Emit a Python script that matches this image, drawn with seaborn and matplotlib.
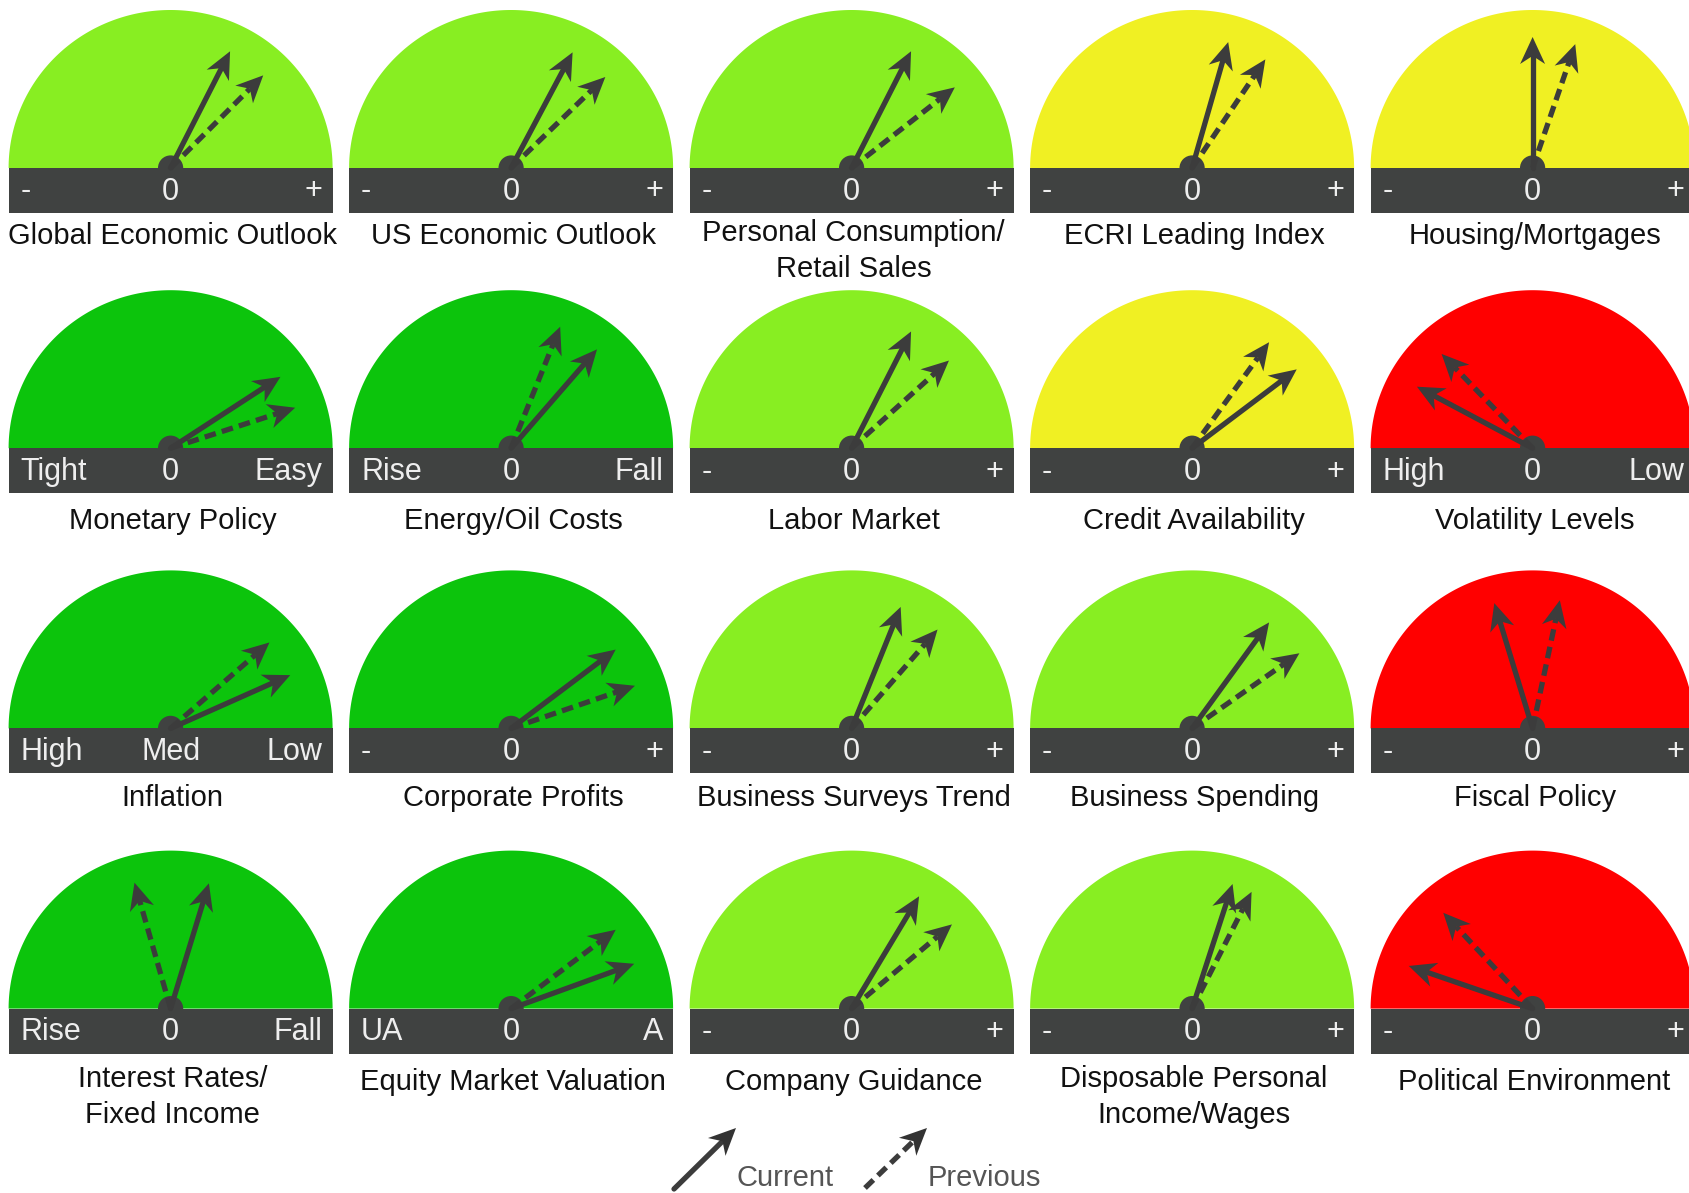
import numpy as np
import pandas as pd
import matplotlib
matplotlib.use("Agg")
import matplotlib.pyplot as plt
import seaborn as sns

# gauges, row by row (4 rows x 5 columns)
titles = [
    "Global Economic Outlook", "US Economic Outlook", "Personal Consumption/\nRetail Sales",
    "ECRI Leading Index", "Housing/Mortgages",
    "Monetary Policy", "Energy/Oil Costs", "Labor Market", "Credit Availability", "Volatility Levels",
    "Inflation", "Corporate Profits", "Business Surveys Trend", "Business Spending", "Fiscal Policy",
    "Interest Rates/\nFixed Income", "Equity Market Valuation", "Company Guidance",
    "Disposable Personal\nIncome/Wages", "Political Environment",
]
zone = [
    "lime", "lime", "lime", "yellow", "yellow",
    "green", "green", "lime", "yellow", "red",
    "green", "green", "lime", "lime", "red",
    "green", "green", "lime", "lime", "red",
]
left_labels = [
    "-", "-", "-", "-", "-",
    "Tight", "Rise", "-", "-", "High",
    "High", "-", "-", "-", "-",
    "Rise", "UA", "-", "-", "-",
]
mid_labels = [
    "0", "0", "0", "0", "0",
    "0", "0", "0", "0", "0",
    "Med", "0", "0", "0", "0",
    "0", "0", "0", "0", "0",
]
right_labels = [
    "+", "+", "+", "+", "+",
    "Easy", "Fall", "+", "+", "Low",
    "Low", "+", "+", "+", "+",
    "Fall", "A", "+", "+", "+",
]
# needle tilt in degrees from vertical (positive = towards the right label)
current_tilt = [
    27, 28, 27, 16, 0,
    57, 41, 27, 53, -62,
    66, 53, 22, 36, -17,
    17, 70, 31, 18, -71,
]
previous_tilt = [
    45, 46, 52, 34, 19,
    72, 22, 48, 36, -44,
    49, 71, 41, 55, 12,
    -16, 53, 50, 27, -43,
]

zone_colors = {"lime": "#88ee22", "green": "#0cc40c", "yellow": "#f0f023", "red": "#ff0000"}
bar_color = "#404241"
needle_color = "#3c3c3c"

W, H = 1690, 1193
col_left, col_step, gauge_w = 8.6, 340.5, 324
bar_top0, row_step, bar_h = 168, 280.2, 45
dome_h = 158
needle_len = 131
head_len, head_w = 27, 25
title_gap = [9, 14, 11, 14]   # px between band and title, per row

sns.set_theme(style="white")
plt.rcParams['font.family'] = ['Liberation Sans', 'DejaVu Sans']

fig = plt.figure(figsize=(W / 100, H / 100), dpi=100)
ax = fig.add_axes([0, 0, 1, 1])
ax.set_xlim(0, W)
ax.set_ylim(H, 0)
ax.axis("off")


def arrow_head(x0, y0, x1, y1, color):
    d = np.array([x1 - x0, y1 - y0], dtype=float)
    d /= np.hypot(*d)
    n = np.array([-d[1], d[0]])
    tip = np.array([x1, y1])
    back = tip - head_len * d
    notch = tip - 0.7 * head_len * d
    pts = np.array([tip, back + n * head_w / 2, notch, back - n * head_w / 2])
    ax.fill(pts[:, 0], pts[:, 1], color=color, lw=0, zorder=6)
    return notch


rows = []
pivots = []
t = np.linspace(0, np.pi, 200)
for i in range(len(titles)):
    r, c = divmod(i, 5)
    left = col_left + c * col_step
    cx = left + gauge_w / 2
    top = bar_top0 + r * row_step

    # dome
    ax.fill(cx + gauge_w / 2 * np.cos(t), top - dome_h * np.sin(t),
            color=zone_colors[zone[i]], lw=0, zorder=1)
    # dark band
    ax.add_patch(plt.Rectangle((left, top), gauge_w, bar_h, color=bar_color, lw=0, zorder=3))
    ymid = top + bar_h / 2 + 1
    kw = dict(color="#eeeeee", fontsize=22, va="center", zorder=4)
    ax.text(left + 12, ymid, left_labels[i], ha="left", **kw)
    ax.text(cx, ymid, mid_labels[i], ha="center", **kw)
    ax.text(left + gauge_w - 10, ymid, right_labels[i], ha="right", **kw)

    ty0 = top + bar_h + title_gap[r]
    if "\n" in titles[i]:
        ty0 -= 3
    ax.text(cx + 2, ty0, titles[i], ha="center", va="top",
            fontsize=21, color="#111111", linespacing=1.36)

    pivots.append((cx, top))
    for kind, tilt in (("Current", current_tilt[i]), ("Previous", previous_tilt[i])):
        a = np.deg2rad(tilt)
        tx = cx + needle_len * np.sin(a)
        ty = top - needle_len * np.cos(a)
        end = arrow_head(cx, top, tx, ty, needle_color)
        rows.append({"x": cx, "y": top, "gauge": i, "kind": kind})
        rows.append({"x": end[0], "y": end[1], "gauge": i, "kind": kind})

# legend needles (bottom centre)
legend_pos = {"Current": (674, 1189, 736, 1128), "Previous": (865, 1188, 927, 1128)}
for kind, (x0, y0, x1, y1) in legend_pos.items():
    end = arrow_head(x0, y0, x1, y1, "#333333")
    rows.append({"x": x0, "y": y0, "gauge": 100 + len(kind), "kind": kind})
    rows.append({"x": end[0], "y": end[1], "gauge": 100 + len(kind), "kind": kind})
    ax.text(x1 + 1, 1178, kind, ha="left", va="center", fontsize=21, color="#555555")

needles = pd.DataFrame(rows)
needles["unit"] = needles["gauge"].astype(str) + needles["kind"]

# pivot dots
piv = pd.DataFrame(pivots, columns=["x", "y"])
sns.scatterplot(data=piv, x="x", y="y", s=330, color=bar_color, edgecolor="none",
                ax=ax, zorder=2, legend=False)

sns.lineplot(data=needles, x="x", y="y", units="unit", style="kind", estimator=None,
             sort=False, dashes={"Current": "", "Previous": (2.2, 1.2)},
             color=needle_color, linewidth=3.8, ax=ax, legend=False, zorder=5)
ax.set_xlim(0, W)
ax.set_ylim(H, 0)
ax.axis("off")

fig.savefig("out.png", dpi=100, facecolor="white")
